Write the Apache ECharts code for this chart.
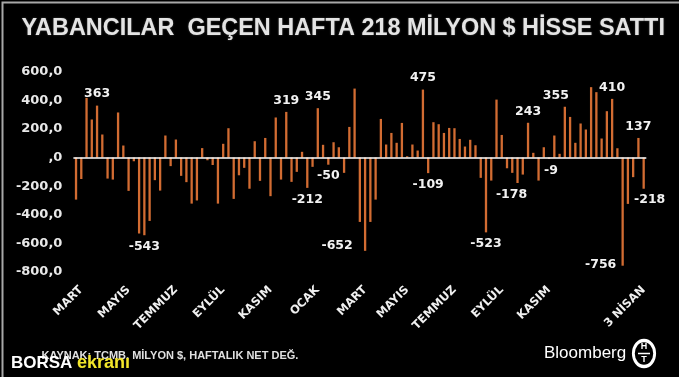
<!DOCTYPE html>
<html>
<head>
<meta charset="utf-8">
<script src="https://cdn.jsdelivr.net/npm/echarts@6/dist/echarts.min.js"></script>
<style>html,body{margin:0;padding:0;background:#000;}#c{width:679px;height:377px;}</style>
</head>
<body>
<div id="c"></div>
<script>
// Weekly net foreign equity flows (million $)
const values = [
  -294, -150, 417, 266, 363, 161, -147, -154, 315, 84,
  -233, -26, -531, -543, -443, -158, -231, 154, -60, 126,
  -128, -172, -322, -300, 66, -19, -52, -322, 96, 205,
  -289, -124, -72, -218, 114, -163, 137, -270, 280, -154,
  319, -170, -100, 40, -212, -65, 345, 89, -50, 107,
  72, -107, 214, 482, -450, -652, -450, -294, 270, 91,
  172, 103, 242, 9, 91, 49, 475, -109, 247, 233,
  172, 207, 205, 130, 77, 124, 86, -142, -523, -161,
  405, 158, -75, -107, -178, -119, 243, 33, -161, 72,
  -9, 154, 26, 355, 284, 103, 238, 196, 492, 457,
  133, 324, 410, 65, -756, -324, -137, 137, -218
];
// Bars that carry a value label
const labeledIdx = [4, 13, 40, 44, 46, 48, 55, 66, 67, 78, 84, 86, 90, 93, 102, 104, 107, 108];
// Month tick labels and the week they sit on
const tickIndex = [1, 10, 19, 28, 37, 46, 55, 63, 72, 81, 90, 108];
const tickLabels = ['MART', 'MAYIS', 'TEMMUZ', 'EYLÜL', 'KASIM', 'OCAK', 'MART', 'MAYIS', 'TEMMUZ', 'EYLÜL', 'KASIM', '3 NİSAN'];
const yTicks = { min: -800, max: 600, interval: 200 };

const titleText = 'YABANCILAR  GEÇEN HAFTA 218 MİLYON $ HİSSE SATTI';
const sourceText = 'KAYNAK: TCMB, MİLYON $, HAFTALIK NET DEĞ.';

// label placement tweaks (style, not data)
const labelOffsets = { 55: [-28, -17], 84: [-6, 0], 90: [2, 0], 93: [-9, 0], 104: [-22, -12], 108: [6, 0] };

const categories = values.map((_, i) => {
  const k = tickIndex.indexOf(i);
  return k >= 0 ? tickLabels[k] : 'w' + i;
});

const barData = values.map((v, i) => {
  const item = { value: v };
  if (labeledIdx.includes(i)) {
    item.label = {
      show: true,
      position: v >= 0 ? 'top' : 'bottom',
      offset: labelOffsets[i] || [0, 0]
    };
  }
  return item;
});

const chart = echarts.init(document.getElementById('c'));
chart.setOption({
  backgroundColor: '#000',
  animation: false,
  grid: { left: 73.4, right: 32.7, top: 71.7, bottom: 105, containLabel: false },
  xAxis: {
    type: 'category',
    data: categories,
    axisLine: { show: false, onZero: false },
    axisTick: { show: false },
    axisLabel: {
      interval: (i) => tickIndex.includes(i),
      rotate: 45,
      margin: 16,
      color: '#f0f0f0',
      fontFamily: 'DejaVu Sans',
      fontWeight: 'bold',
      fontSize: 11.5,
      formatter: (v) => v
    }
  },
  yAxis: {
    type: 'value',
    min: yTicks.min, max: yTicks.max, interval: yTicks.interval,
    axisLine: { show: false },
    axisTick: { show: false },
    splitLine: { show: false },
    axisLabel: {
      margin: 11,
      color: '#e8e8e8',
      fontFamily: 'DejaVu Sans',
      fontWeight: 'bold',
      fontSize: 13,
      formatter: (v) => v === 0 ? ',0' : v.toFixed(1).replace('.', ',')
    }
  },
  series: [{
    type: 'bar',
    data: barData,
    barWidth: 2.3,
    itemStyle: { color: '#d26c32' },
    label: {
      show: false,
      color: '#f2f2f2',
      fontFamily: 'DejaVu Sans',
      fontWeight: 'bold',
      fontSize: 12.5,
      distance: 5
    },
    markLine: {
      silent: true,
      symbol: 'none',
      label: { show: false },
      lineStyle: { color: '#ffffff', width: 1.5, type: 'solid' },
      data: [{ yAxis: 0 }]
    }
  }],
  graphic: [
    { type: 'rect', left: 0, top: 0, shape: { width: 679, height: 377 }, style: { fill: 'none', stroke: '#a8a8a8', lineWidth: 2 }, silent: true },
    { type: 'text', x: 21.6, y: 28.5, style: { text: titleText, fill: '#e4e4e4', font: 'bold 23.45px "Liberation Sans", Arial, sans-serif', textVerticalAlign: 'middle', textShadowColor: 'rgba(120,120,120,0.6)', textShadowBlur: 2 } },
    { type: 'text', x: 41.5, y: 355.5, style: { text: sourceText, fill: '#e0e0e0', font: 'bold 11px "Liberation Sans", Arial, sans-serif', textVerticalAlign: 'middle' } },
    { type: 'text', x: 11, y: 363.5, style: { text: 'BORSA', fill: '#ffffff', font: 'bold 17px "Liberation Sans", Arial, sans-serif', textVerticalAlign: 'middle' } },
    { type: 'text', x: 77, y: 363.5, style: { text: 'ekranı', fill: '#f2e52a', font: 'bold 18px "Liberation Sans", Arial, sans-serif', textVerticalAlign: 'middle' } },
    { type: 'text', x: 544, y: 353, style: { text: 'Bloomberg', fill: '#ffffff', font: '17px "Liberation Sans", Arial, sans-serif', textVerticalAlign: 'middle' } },
    { type: 'circle', x: 644, y: 353.5, scaleX: 0.82, shape: { cx: 0, cy: 0, r: 13 }, style: { fill: '#000', stroke: '#ffffff', lineWidth: 3.5 } },
    { type: 'line', shape: { x1: 638, y1: 353.5, x2: 650, y2: 353.5 }, style: { stroke: '#ffffff', lineWidth: 1.5 } },
    { type: 'text', x: 644, y: 347, style: { text: 'H', fill: '#ffffff', font: 'bold 9px "Liberation Sans", Arial, sans-serif', textAlign: 'center', textVerticalAlign: 'middle' } },
    { type: 'text', x: 644, y: 360, style: { text: 'T', fill: '#ffffff', font: 'bold 9px "Liberation Sans", Arial, sans-serif', textAlign: 'center', textVerticalAlign: 'middle' } }
  ]
});
</script>
</body>
</html>
